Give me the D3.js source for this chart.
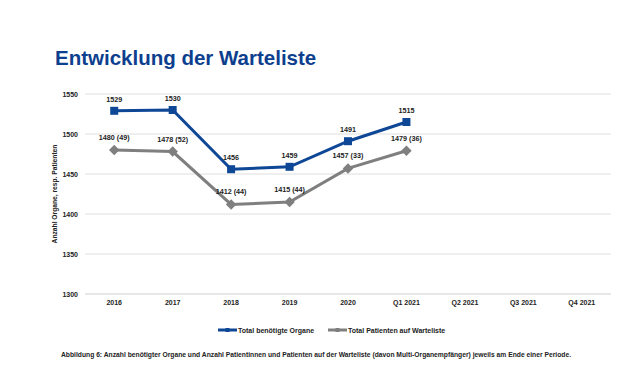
<!DOCTYPE html>
<html>
<head>
<meta charset="utf-8">
<script src="https://cdn.jsdelivr.net/npm/d3@7"></script>
<style>
  body { margin: 0; background: #fff; }
  text { font-family: "Liberation Sans", Arial, sans-serif; }
</style>
</head>
<body>
<div id="chart"></div>
<script>
// data
const categories = ["2016", "2017", "2018", "2019", "2020", "Q1 2021", "Q2 2021", "Q3 2021", "Q4 2021"];
const organe = [1529, 1530, 1456, 1459, 1491, 1515];
const patienten = [1480, 1478, 1412, 1415, 1457, 1479];
const multi = [49, 52, 44, 44, 33, 36];
const yTicks = [1300, 1350, 1400, 1450, 1500, 1550];

const W = 640, H = 377;
const margin = {top: 94, right: 29, bottom: 83, left: 85};

const svg = d3.select("#chart")
    .append("svg")
    .attr("width", W)
    .attr("height", H);

const x = d3.scaleBand()
    .domain(categories)
    .range([margin.left, W - margin.right]);

const y = d3.scaleLinear()
    .domain([1300, 1550])
    .range([H - margin.bottom, margin.top]);

const blue = "#0f4797", grey = "#7f7f7f";

// title
svg.append("text")
    .attr("x", 55)
    .attr("y", 65)
    .text("Entwicklung der Warteliste")
    .attr("font-size", "20.5px")
    .attr("font-weight", "bold")
    .attr("fill", "#0d3f8e");

// gridlines
svg.selectAll(".grid")
    .data(yTicks)
    .enter()
    .append("line")
    .attr("x1", margin.left)
    .attr("x2", W - margin.right)
    .attr("y1", d => y(d))
    .attr("y2", d => y(d))
    .attr("stroke", d => d === 1300 ? "#cfcfcf" : "#dedede")
    .attr("stroke-width", 1);

// y axis labels
svg.selectAll(".ylab")
    .data(yTicks)
    .enter()
    .append("text")
    .attr("x", 78)
    .attr("y", d => y(d) + 2.5)
    .attr("text-anchor", "end")
    .attr("font-size", "7px")
    .attr("font-weight", "bold")
    .attr("fill", "#222")
    .text(d => d);

// x axis labels
svg.selectAll(".xlab")
    .data(categories)
    .enter()
    .append("text")
    .attr("x", d => x(d) + x.bandwidth() / 2)
    .attr("y", 305)
    .attr("text-anchor", "middle")
    .attr("font-size", "7px")
    .attr("font-weight", "bold")
    .attr("fill", "#222")
    .text(d => d);

// y axis title
svg.append("text")
    .attr("transform", `translate(57, ${(y(1300) + y(1550)) / 2}) rotate(-90)`)
    .attr("text-anchor", "middle")
    .attr("font-size", "6.7px")
    .attr("font-weight", "bold")
    .attr("fill", "#222")
    .text("Anzahl Organe, resp. Patienten");

const cx = i => x(categories[i]) + x.bandwidth() / 2;
const line = d3.line()
    .x((d, i) => cx(i))
    .y(d => y(d));

// grey series
svg.append("path")
    .datum(patienten)
    .attr("d", line)
    .attr("fill", "none")
    .attr("stroke", grey)
    .attr("stroke-width", 3);

svg.selectAll(".dia")
    .data(patienten)
    .enter()
    .append("path")
    .attr("d", d3.symbol().type(d3.symbolDiamond2).size(70))
    .attr("transform", (d, i) => `translate(${cx(i)}, ${y(d)})`)
    .attr("fill", grey);

// blue series
svg.append("path")
    .datum(organe)
    .attr("d", line)
    .attr("fill", "none")
    .attr("stroke", blue)
    .attr("stroke-width", 3);

svg.selectAll(".sq")
    .data(organe)
    .enter()
    .append("rect")
    .attr("x", (d, i) => cx(i) - 4)
    .attr("y", d => y(d) - 4)
    .attr("width", 8)
    .attr("height", 8)
    .attr("fill", blue);

// value labels
svg.selectAll(".vb")
    .data(organe)
    .enter()
    .append("text")
    .attr("x", (d, i) => cx(i))
    .attr("y", d => y(d) - 9)
    .attr("text-anchor", "middle")
    .attr("font-size", "7.2px")
    .attr("font-weight", "bold")
    .attr("fill", "#222")
    .text(d => d);

svg.selectAll(".vg")
    .data(patienten)
    .enter()
    .append("text")
    .attr("x", (d, i) => cx(i))
    .attr("y", d => y(d) - 10)
    .attr("text-anchor", "middle")
    .attr("font-size", "7.2px")
    .attr("font-weight", "bold")
    .attr("fill", "#222")
    .text((d, i) => `${d} (${multi[i]})`);

// legend
const legend = [
    {name: "Total benötigte Organe", color: blue, x0: 218},
    {name: "Total Patienten auf Warteliste", color: grey, x0: 328}
];
legend.forEach(function (l) {
    svg.append("line")
        .attr("x1", l.x0).attr("x2", l.x0 + 19)
        .attr("y1", 330).attr("y2", 330)
        .attr("stroke", l.color)
        .attr("stroke-width", 3);
    svg.append("rect")
        .attr("x", l.x0 + 7.5).attr("y", 328)
        .attr("width", 4).attr("height", 4)
        .attr("fill", l.color);
    svg.append("text")
        .attr("x", l.x0 + 20)
        .attr("y", 332.5)
        .attr("font-size", "7px")
        .attr("font-weight", "bold")
        .attr("fill", "#222")
        .text(l.name);
});

// caption
svg.append("text")
    .attr("x", 61)
    .attr("y", 357)
    .attr("font-size", "6.6px")
    .attr("font-weight", "bold")
    .attr("fill", "#222")
    .attr("textLength", 510)
    .attr("lengthAdjust", "spacingAndGlyphs")
    .text("Abbildung 6:  Anzahl benötigter Organe und Anzahl Patientinnen und Patienten auf der Warteliste (davon Multi-Organempfänger) jeweils am Ende einer Periode.");
</script>
</body>
</html>
